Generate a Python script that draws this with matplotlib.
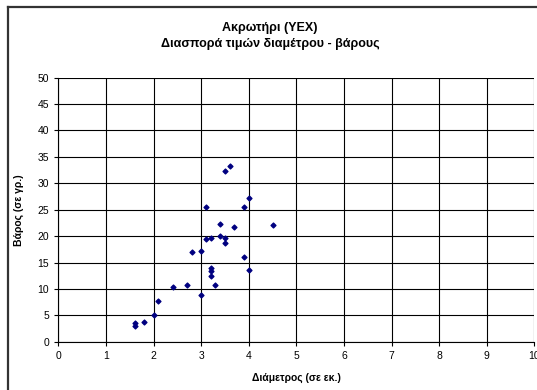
import matplotlib.pyplot as plt
from matplotlib.lines import Line2D

plt.rcParams['font.family'] = ['Liberation Sans', 'DejaVu Sans']

diameter = [1.6, 1.6, 1.8, 2.0, 2.1, 2.4, 2.7, 2.8, 3.0, 3.0,
            3.1, 3.1, 3.2, 3.2, 3.2, 3.2, 3.3, 3.4, 3.4, 3.5,
            3.5, 3.7, 3.9, 3.9, 4.0, 4.0, 4.5, 3.5, 3.6]
weight = [3.6, 3.0, 3.7, 5.0, 7.7, 10.3, 10.7, 16.9, 17.2, 8.9,
          25.5, 19.4, 19.7, 13.9, 13.4, 12.4, 10.7, 22.2, 20.1, 19.7,
          18.6, 21.8, 25.5, 16.0, 27.3, 13.5, 22.1, 32.3, 33.3]

title = "Ακρωτήρι (ΥΕΧ)\nΔιασπορά τιμών διαμέτρου - βάρους"
xlabel = "Διάμετρος (σε εκ.)"
ylabel = "Βάρος (σε γρ.)"

fig = plt.figure(figsize=(5.37, 3.9), dpi=100)
ax = fig.add_axes([0.1086, 0.1238, 0.8867, 0.677])

ax.scatter(diameter, weight, marker='D', s=6, color='#000080', zorder=3)

ax.set_xlim(0, 10)
ax.set_ylim(0, 50)
ax.set_xticks(range(0, 11))
ax.set_yticks(range(0, 51, 5))
ax.grid(True, color='black', linewidth=0.8)
ax.tick_params(labelsize=7.5, length=3, direction='out')
for s in ax.spines.values():
    s.set_linewidth(0.8)
ax.spines['top'].set_visible(False)
ax.spines['right'].set_visible(False)

ax.set_xlabel(xlabel, fontsize=7.5, fontweight='bold', labelpad=9)
ax.set_ylabel(ylabel, fontsize=7.5, fontweight='bold', labelpad=10)
fig.text(0.503, 0.908, title, ha='center', va='center', fontsize=9,
         fontweight='bold', linespacing=1.45)

# chart frame: only left and top edges fall inside the image
fig.add_artist(Line2D([0.014, 0.014], [0.0, 0.982], transform=fig.transFigure,
                      color='#333333', linewidth=1.6))
fig.add_artist(Line2D([0.014, 1.0], [0.982, 0.982], transform=fig.transFigure,
                      color='#333333', linewidth=1.6))

fig.savefig('out.png', dpi=100)
